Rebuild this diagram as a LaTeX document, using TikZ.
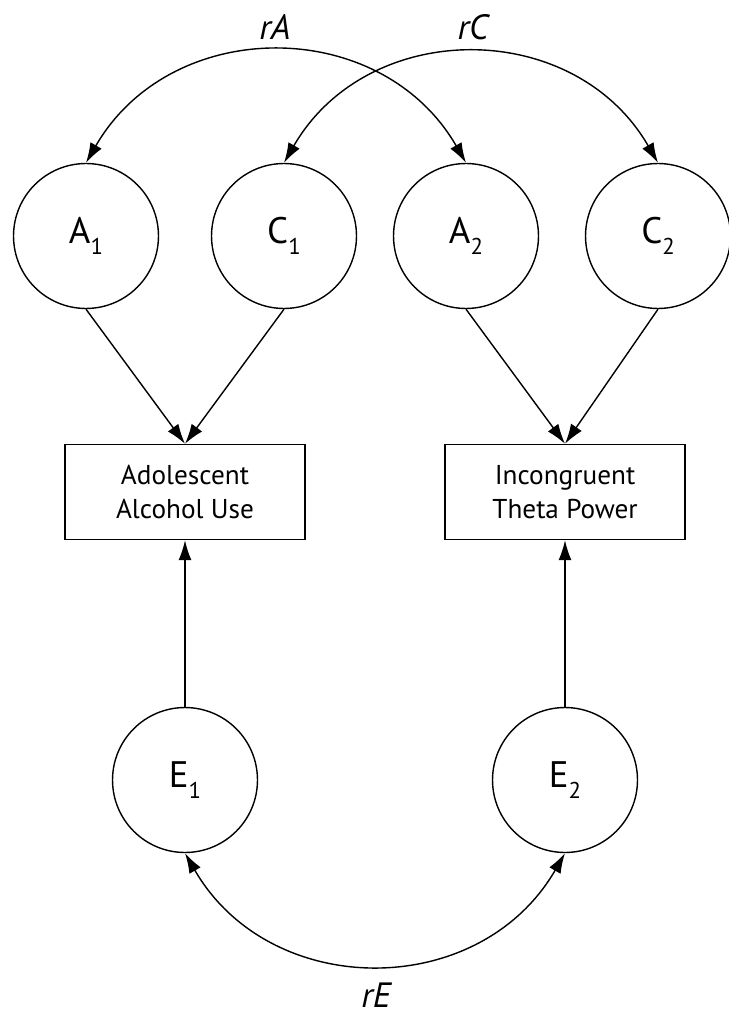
\documentclass[tikz,border=0pt]{standalone}
\usepackage{fontspec}
\setmainfont{PT Sans}
\usetikzlibrary{arrows.meta}
\newcommand{\idx}[1]{\raisebox{-6.5pt}{\fontsize{13}{13}\selectfont #1}}
\tikzset{
	latent/.style = {circle, draw, line width=0.8pt, minimum size=2.9cm, inner sep=0pt, font=\fontsize{21}{22}\selectfont},
	observed/.style = {rectangle, draw, line width=0.8pt, minimum width=4.8cm, minimum height=1.9cm, align=center, font=\fontsize{15.5}{19.5}\selectfont},
	path/.style = {line width=0.8pt, -{Latex[length=4mm,width=2.6mm]}},
	cov/.style = {line width=0.8pt, {Latex[length=4mm,width=2.6mm]}-{Latex[length=4mm,width=2.6mm]}},
	corrlabel/.style = {font=\fontsize{20}{21}\selectfont\itshape}
}

\begin{document}
\begin{tikzpicture}[x=0.02cm, y=-0.02cm]
			\useasboundingbox (0, 0) rectangle (728, 1017);
			% Part for the latent factors
			\node[latent] (A1) at (86, 236) {A\idx{1}};
			\node[latent] (C1) at (284, 236) {C\idx{1}};
			\node[latent] (A2) at (466, 236) {A\idx{2}};
			\node[latent] (C2) at (658, 236) {C\idx{2}};
			\node[latent] (E1) at (185, 780) {E\idx{1}};
			\node[latent] (E2) at (565, 780) {E\idx{2}};
			% Part for the measured traits
			\node[observed] (alcohol) at (185, 492) {Adolescent\\Alcohol Use};
			\node[observed] (theta) at (565, 492) {Incongruent\\Theta Power};
			% paths
			\draw[path] (A1.south) -- (alcohol.north);
			\draw[path] (C1.south) -- (alcohol.north);
			\draw[path] (A2.south) -- (theta.north);
			\draw[path] (C2.south) -- (theta.north);
			\draw[path] (E1.north) -- (alcohol.south);
			\draw[path] (E2.north) -- (theta.south);
			% correlations
			\draw[cov] (A1.north) to[out=60, in=120, looseness=1.15] (A2.north);
			\draw[cov] (C1.north) to[out=60, in=120, looseness=1.15] (C2.north);
			\draw[cov] (E1.south) to[out=-60, in=-120, looseness=1.15] (E2.south);
			\node[corrlabel] (rA) at (275, 27) {rA};
			\node[corrlabel] (rC) at (473, 27) {rC};
			\node[corrlabel] (rE) at (376, 995) {rE};
		\end{tikzpicture}
\end{document}
